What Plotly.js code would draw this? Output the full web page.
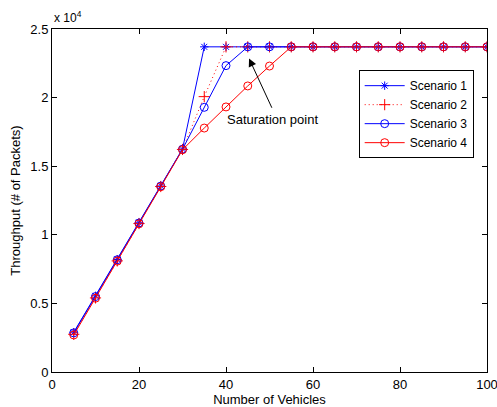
<!DOCTYPE html>
<html>
<head>
<meta charset="utf-8">
<script src="https://cdn.plot.ly/plotly-3.0.1.min.js"></script>
<style>html,body{margin:0;padding:0;background:#fff;}#chart{width:497px;height:407px;}</style>
</head>
<body>
<div id="chart"></div>
<script>
var vehicles = [5,10,15,20,25,30,35,40,45,50,55,60,65,70,75,80,85,90,95,100];
var scenario1 = [2900,5550,8200,10880,13560,16250,23700,23700,23700,23700,23700,23700,23700,23700,23700,23700,23700,23700,23700,23700];
var scenario2 = [2750,5400,8100,10820,13520,16220,20070,23700,23700,23700,23700,23700,23700,23700,23700,23700,23700,23700,23700,23700];
var scenario3 = [2850,5500,8180,10860,13550,16240,19290,22330,23700,23700,23700,23700,23700,23700,23700,23700,23700,23700,23700,23700];
var scenario4 = [2700,5380,8080,10800,13500,16200,17780,19320,20850,22300,23700,23700,23700,23700,23700,23700,23700,23700,23700,23700];
var names = ['Scenario 1','Scenario 2','Scenario 3','Scenario 4'];
var yTickVals = [0,5000,10000,15000,20000,25000];
var yTickText = ['0','0.5','1','1.5','2','2.5'];
var xTickVals = [0,20,40,60,80,100];

var FAM = 'Liberation Sans, Arial, sans-serif';
var traces = [
  {x:vehicles, y:scenario1, name:names[0], mode:'lines+markers',
   line:{color:'#0000ff', width:1}, marker:{symbol:'asterisk-open', size:7, color:'#0000ff', line:{color:'#0000ff', width:1}}},
  {x:vehicles, y:scenario2, name:names[1], mode:'lines+markers',
   line:{color:'#ff0000', width:1, dash:'1px,3px'}, marker:{symbol:'cross-thin-open', size:8, color:'#ff0000', line:{color:'#ff0000', width:1}}},
  {x:vehicles, y:scenario3, name:names[2], mode:'lines+markers',
   line:{color:'#0000ff', width:1}, marker:{symbol:'circle-open', size:8, color:'#0000ff', line:{color:'#0000ff', width:1}}},
  {x:vehicles, y:scenario4, name:names[3], mode:'lines+markers',
   line:{color:'#ff0000', width:1}, marker:{symbol:'circle-open', size:8, color:'#ff0000', line:{color:'#ff0000', width:1}}}
];
var layout = {
  width:497, height:407,
  paper_bgcolor:'#fff', plot_bgcolor:'#fff',
  margin:{l:52, r:10, t:29, b:35},
  font:{family:FAM, size:13, color:'#000'},
  showlegend:true,
  legend:{x:0.705, y:0.88, xanchor:'left', yanchor:'top', bordercolor:'#000', borderwidth:1, bgcolor:'#fff',
    font:{family:FAM, size:12, color:'#000'}, itemwidth:40, tracegroupgap:0},
  xaxis:{range:[0,100], tickvals:xTickVals, ticks:'inside', ticklen:5, tickcolor:'#000', showline:true, linecolor:'#000', linewidth:1,
    mirror:'ticks', showgrid:false, zeroline:false, tickfont:{size:13}, ticklabeloverflow:'allow',
    title:{text:'Number of Vehicles', font:{size:13}, standoff:0}},
  yaxis:{range:[0,25000], tickvals:yTickVals, ticktext:yTickText, ticks:'inside', ticklen:5, tickcolor:'#000', showline:true, linecolor:'#000', linewidth:1,
    mirror:'ticks', showgrid:false, zeroline:false, tickfont:{size:13}, ticklabeloverflow:'allow',
    title:{text:'Throughput (# of Packets)', font:{size:13}, standoff:6}},
  annotations:[
    {xref:'paper', yref:'paper', x:0.0, y:1.0, xanchor:'left', yanchor:'bottom', yshift:2, xshift:0, text:'x 10<sup>4</sup>', showarrow:false, font:{size:12}},
    {xref:'x', yref:'y', x:50.7, y:18440, text:'Saturation point', showarrow:false, font:{size:13}},
    {xref:'x', yref:'y', x:45.3, y:22850, axref:'x', ayref:'y', ax:50.7, ay:19150, text:'', showarrow:true,
     arrowhead:2, arrowsize:1.6, arrowwidth:1, arrowcolor:'#000'}
  ]
};
Plotly.newPlot('chart', traces, layout, {displayModeBar:false, staticPlot:true});
</script>
</body>
</html>
